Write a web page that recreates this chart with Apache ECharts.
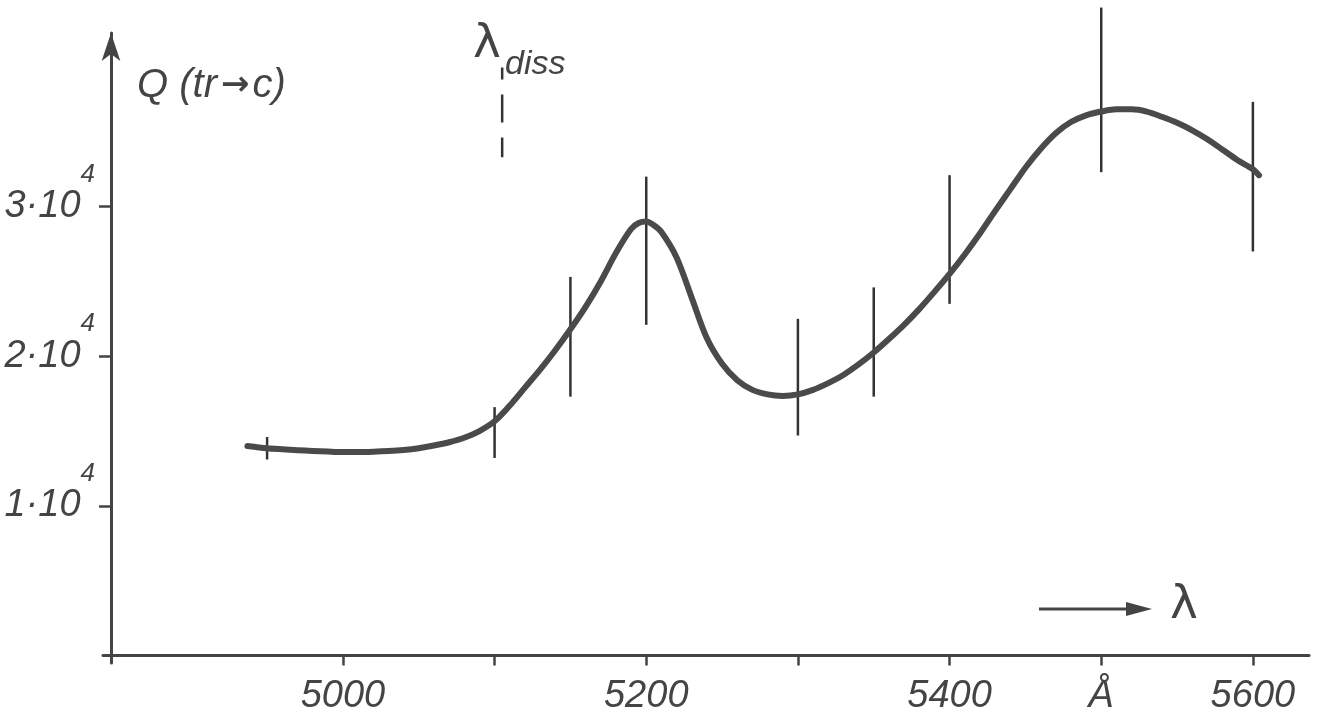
<!DOCTYPE html>
<html>
<head>
<meta charset="utf-8">
<script src="https://cdn.jsdelivr.net/npm/echarts@6/dist/echarts.min.js"></script>
<style>
html,body{margin:0;padding:0;background:#fff;}
#chart{width:1325px;height:715px;}
</style>
</head>
<body>
<div id="chart"></div>
<script>
// Smooth curve Q(tr->c) vs wavelength (Å), values in units of 10^4
const curveX = [4937, 4950, 4960, 4970, 4980, 4990, 5000, 5010, 5020, 5030, 5040, 5050, 5060, 5070, 5080, 5090, 5100, 5110, 5120, 5130, 5140, 5150, 5160, 5170, 5180, 5190, 5195, 5200, 5205, 5210, 5220, 5230, 5240, 5250, 5260, 5270, 5280, 5290, 5300, 5310, 5320, 5330, 5340, 5350, 5360, 5370, 5380, 5390, 5400, 5410, 5420, 5430, 5440, 5450, 5460, 5470, 5480, 5490, 5500, 5510, 5520, 5530, 5540, 5550, 5560, 5570, 5580, 5590, 5600, 5604];
const curveQ = [1.40, 1.385, 1.378, 1.372, 1.367, 1.363, 1.360, 1.360, 1.362, 1.366, 1.373, 1.385, 1.403, 1.425, 1.455, 1.50, 1.565, 1.67, 1.79, 1.91, 2.04, 2.18, 2.33, 2.50, 2.69, 2.85, 2.89, 2.90, 2.875, 2.83, 2.66, 2.39, 2.12, 1.95, 1.84, 1.775, 1.745, 1.735, 1.745, 1.775, 1.82, 1.875, 1.945, 2.025, 2.115, 2.21, 2.315, 2.43, 2.55, 2.68, 2.82, 2.97, 3.115, 3.26, 3.385, 3.49, 3.565, 3.61, 3.635, 3.65, 3.65, 3.635, 3.60, 3.56, 3.51, 3.45, 3.38, 3.31, 3.25, 3.21];
// Error bars
const errX    = [4950, 5100, 5150, 5200, 5300, 5350, 5400, 5500, 5600];
const errLow  = [1.31, 1.32, 1.73, 2.21, 1.47, 1.73, 2.35, 3.23, 2.70];
const errHigh = [1.46, 1.66, 2.53, 3.20, 2.25, 2.46, 3.21, 4.33, 3.70];
// Dissociation wavelength marker
const dissX = [5105, 5105];
const dissQ = [3.93, 3.33];
// Axis ticks / labels
const xTicks = [5000, 5100, 5200, 5300, 5400, 5500, 5600];
const xLabels = [5000, 5200, 5400, 5500, 5600];
const yTicks = [1, 2, 3];

const ink = '#444';
const font = '"Liberation Sans", Arial, sans-serif';

const chart = echarts.init(document.getElementById('chart'));
chart.setOption({
  backgroundColor: '#fff',
  animation: false,
  grid: { left: 103, right: 16, top: 33, bottom: 50.5 },
  xAxis: {
    type: 'value', min: 4841.8, max: 5637,
    axisLine: { onZero: true, lineStyle: { color: ink, width: 3 } },
    axisTick: { customValues: xTicks, length: 10, lineStyle: { color: ink, width: 2.5 } },
    axisLabel: {
      customValues: xLabels, margin: 14,
      formatter: v => (v === 5500 ? 'Å' : String(v)),
      color: ink, fontSize: 38, fontStyle: 'italic', fontFamily: font
    },
    splitLine: { show: false }
  },
  yAxis: {
    type: 'value', min: -0.05, max: 4.16, offset: -8,
    axisLine: { show: true, symbol: ['none', 'arrow'], symbolSize: [14, 28], lineStyle: { color: ink, width: 3 } },
    axisTick: { customValues: yTicks, length: 12, lineStyle: { color: ink, width: 2.5 } },
    axisLabel: {
      customValues: yTicks, margin: 16,
      formatter: v => '{b|' + v + '·10}{s|4}',
      rich: {
        b: { fontSize: 38, fontStyle: 'italic', fontFamily: font, color: ink, lineHeight: 90, verticalAlign: 'middle' },
        s: { fontSize: 26, fontStyle: 'italic', fontFamily: font, color: ink, lineHeight: 26, verticalAlign: 'top' }
      }
    },
    splitLine: { show: false }
  },
  series: [
    {
      type: 'line', smooth: 0.3, showSymbol: false,
      data: curveX.map((x, i) => [x, curveQ[i]]),
      lineStyle: { color: '#4a4a4a', width: 6, cap: 'round', join: 'round' }
    },
    {
      type: 'custom',
      data: errX.map((x, i) => [x, errLow[i], errHigh[i]]),
      renderItem: function (params, api) {
        const p1 = api.coord([api.value(0), api.value(1)]);
        const p2 = api.coord([api.value(0), api.value(2)]);
        return { type: 'line', shape: { x1: p1[0], y1: p1[1], x2: p2[0], y2: p2[1] },
                 style: { stroke: '#333', lineWidth: 2.5 } };
      },
      z: 3
    },
    {
      type: 'line', showSymbol: false,
      data: dissX.map((x, i) => [x, dissQ[i]]),
      lineStyle: { color: '#333', width: 2.5, type: [28, 15], dashOffset: 16 }
    }
  ],
  graphic: [
    { type: 'text', left: 137, top: 66, style: {
        text: '{a|Q (tr}{b|→}{a|c)}',
        rich: {
          a: { font: 'italic 40px ' + font, fill: ink, color: ink },
          b: { font: 'bold 34px "DejaVu Sans", sans-serif', fill: ink, color: ink, padding: [0, 3, 0, 4] }
        } } },
    { type: 'text', left: 473, top: 21, style: { text: 'λ', font: '47px "DejaVu Sans", sans-serif', fill: ink } },
    { type: 'text', left: 505, top: 48, style: { text: 'diss', font: 'italic 34px ' + font, fill: ink } },
    { type: 'line', shape: { x1: 1039, y1: 609, x2: 1130, y2: 609 }, style: { stroke: ink, lineWidth: 3 } },
    { type: 'polygon', shape: { points: [[1126, 602], [1152, 609], [1126, 616]] }, style: { fill: ink } },
    { type: 'text', left: 1170, top: 582, style: { text: 'λ', font: '47px "DejaVu Sans", sans-serif', fill: ink } }
  ]
});
</script>
</body>
</html>
